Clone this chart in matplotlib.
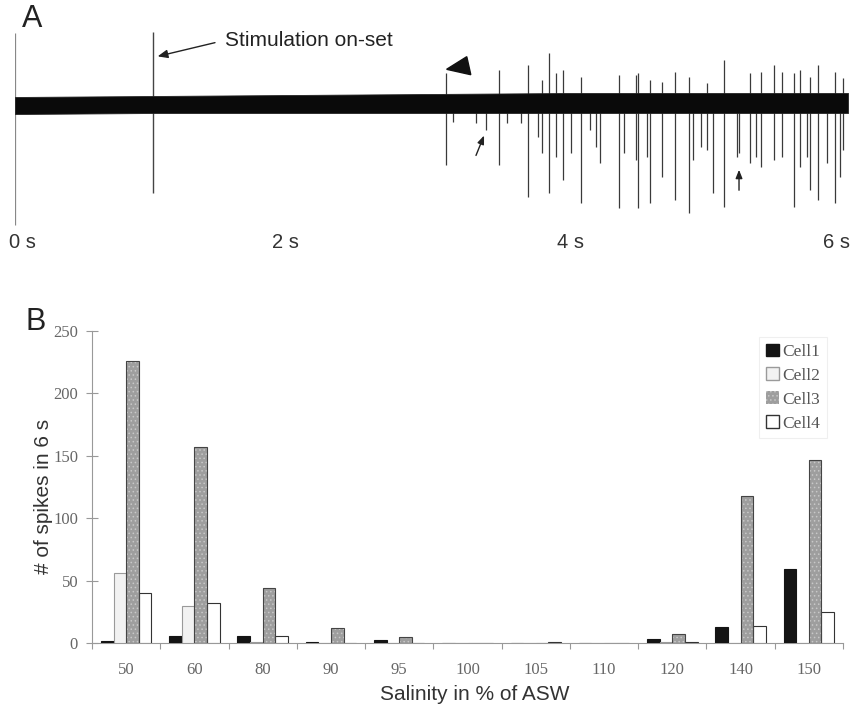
import matplotlib
matplotlib.use("Agg")
import matplotlib.pyplot as plt
from matplotlib.patches import Patch, Polygon
import numpy as np

# ---------------- Panel A data ----------------
# baseline noise envelope (upper / lower edge) at a few times
env_t = [0.0, 1.0, 2.0, 3.0, 4.0, 5.0, 6.0]
env_up = [7, 8, 9, 10, 11, 11, 11]
env_lo = [10, 9, 9, 9, 9, 9, 9]

# time-zero marker and stimulation artefact
marker_t = [0.0]
marker_up = [71]
marker_down = [121]
stim_t = [0.994]
stim_up = [72]
stim_down = [89]

spike_t = [3.102, 3.157, 3.318, 3.393, 3.486, 3.542, 3.643, 3.693, 3.765, 3.794,
           3.844, 3.897, 3.945, 4.005, 4.077, 4.142, 4.183, 4.214, 4.351, 4.385,
           4.471, 4.490, 4.550, 4.576, 4.663, 4.754, 4.855, 4.886, 4.941, 4.982,
           5.030, 5.107, 5.198, 5.217, 5.294, 5.337, 5.373, 5.467, 5.523, 5.611,
           5.654, 5.707, 5.726, 5.786, 5.847, 5.906, 5.942, 5.966]
spike_up = [31, 0, 0, 0, 34, 0, 0, 39, 0, 24,
            51, 31, 34, 0, 27, 0, 0, 0, 29, 0,
            29, 31, 0, 24, 22, 32, 27, 0, 0, 21,
            0, 44, 0, 0, 31, 0, 32, 39, 32, 31,
            34, 0, 27, 39, 0, 32, 0, 26]
spike_down = [61, 18, 19, 26, 61, 19, 19, 93, 33, 49,
              89, 53, 76, 49, 99, 26, 43, 59, 104, 49,
              56, 104, 53, 99, 73, 96, 109, 56, 43, 46,
              89, 103, 53, 49, 59, 53, 63, 56, 53, 103,
              63, 53, 86, 96, 59, 99, 73, 46]

time_ticks = [0, 2, 4, 6]
time_labels = ["0 s", "2 s", "4 s", "6 s"]

# ---------------- Panel B data ----------------
salinity = ["50", "60", "80", "90", "95", "100", "105", "110", "120", "140", "150"]
cell1 = [1.5, 6, 5.5, 0.5, 2.5, 0, 0, 0, 3, 13, 59]
cell2 = [56, 30, 1, 0, 0, 0, 0, 0, 0.5, 0, 0]
cell3 = [226, 157, 44, 12, 4.5, 0, 0, 0, 7, 118, 147]
cell4 = [40, 32, 6, 0, 0, 0, 0.5, 0, 1, 14, 25]
cell_names = ["Cell1", "Cell2", "Cell3", "Cell4"]
y_ticks = [0, 50, 100, 150, 200, 250]

W, H = 851, 709
fig = plt.figure(figsize=(W / 100, H / 100), dpi=100)

sans = ["Liberation Sans", "DejaVu Sans"]
serif = ["Liberation Serif", "DejaVu Serif"]

# ---------------- Panel A ----------------
axA = fig.add_axes([15 / W, 1 - 230 / H, 833 / W, 202 / H])
axA.set_xlim(0, 6)
axA.set_ylim(-126, 76)
axA.axis("off")

axA.fill_between(env_t, [-v for v in env_lo], env_up, color="#0a0a0a", lw=0.6,
                 edgecolor="#222222", zorder=3)
axA.vlines(marker_t, [-v for v in marker_down], marker_up, color="#888888", lw=0.9, zorder=2)
axA.vlines(stim_t, [-v for v in stim_down], stim_up, color="#444444", lw=1.0, zorder=2)
axA.vlines(spike_t, [-v for v in spike_down], spike_up, color="#3a3a3a", lw=0.9, zorder=2)

# annotations
axA.annotate("", xy=(1.008, 47), xytext=(1.46, 62),
             arrowprops=dict(arrowstyle="-|>,head_length=0.6,head_width=0.25",
                             color="#222222", lw=1.0))
axA.text(1.513, 63, "Stimulation on-set", fontsize=15, family=sans, va="center",
         ha="left", color="#222222")
axA.add_patch(Polygon([(3.109, 34.7), (3.254, 47.3), (3.283, 29.3)], closed=True,
                      color="#111111", zorder=5))
axA.annotate("", xy=(3.386, -29), xytext=(3.313, -54),
             arrowprops=dict(arrowstyle="-|>,head_length=0.5,head_width=0.2",
                             color="#222222", lw=1.0))
axA.annotate("", xy=(5.215, -63), xytext=(5.215, -89),
             arrowprops=dict(arrowstyle="-|>,head_length=0.5,head_width=0.2",
                             color="#222222", lw=1.0))

ha_list = ["left", "center", "center", "right"]
offsets = [-0.043, -0.055, 0.0, 0.014]
for tt, lab, ha, off in zip(time_ticks, time_labels, ha_list, offsets):
    axA.text(tt + off, -138, lab, fontsize=14.5, family=sans, ha=ha, va="center",
             color="#333333", clip_on=False)

fig.text(22 / W, 1 - 19 / H, "A", fontsize=22, family=sans, va="center", ha="left",
         color="#222222")

# ---------------- Panel B ----------------
axB = fig.add_axes([92 / W, 1 - 643 / H, 751 / W, 312 / H])
x = np.arange(len(salinity))
w = 0.185
styles = [
    dict(facecolor="#141414", edgecolor="#141414"),
    dict(facecolor="#f2f2f2", edgecolor="#9a9a9a"),
    dict(facecolor="#9e9e9e", edgecolor="#444444"),
    dict(facecolor="#ffffff", edgecolor="#333333"),
]
series = [cell1, cell2, cell3, cell4]
plt.rcParams["hatch.linewidth"] = 0.6
for k, (vals, st) in enumerate(zip(series, styles)):
    xpos = x + (k - 1.5) * w
    if k == 2:
        # stippled grey fill, then dark outline
        axB.bar(xpos, vals, width=w, lw=0, facecolor=st["facecolor"],
                edgecolor="#c8c8c8", hatch="....", zorder=3)
        axB.bar(xpos, vals, width=w, lw=0.8, facecolor="none",
                edgecolor=st["edgecolor"], zorder=4)
    else:
        axB.bar(xpos, vals, width=w, lw=0.8, zorder=3, **st)

axB.set_xlim(-0.5, len(salinity) - 0.5)
axB.set_ylim(0, 250)
for s in ["top", "right"]:
    axB.spines[s].set_visible(False)
axB.spines["left"].set_color("#999999")
axB.spines["bottom"].set_color("#999999")
axB.set_yticks(y_ticks)
axB.set_yticklabels([str(v) for v in y_ticks], family=serif, fontsize=12, color="#666666")
axB.tick_params(axis="y", direction="inout", length=8, width=0.8, color="#999999", pad=6)
axB.set_xticks(x)
axB.set_xticklabels(salinity, family=serif, fontsize=12, color="#666666")
axB.tick_params(axis="x", which="major", length=0, pad=14)
axB.set_xticks(np.arange(-0.5, len(salinity), 1.0), minor=True)
axB.tick_params(axis="x", which="minor", length=4, width=0.8, color="#999999", direction="out")

axB.set_ylabel("# of spikes in 6 s", family=sans, fontsize=15, color="#333333")
axB.yaxis.set_label_coords(-0.052, 0.47)
axB.set_xlabel("Salinity in % of ASW", family=sans, fontsize=15, color="#333333")
axB.xaxis.set_label_coords(0.51, -0.135)

handles = [Patch(label=cell_names[0], **styles[0]),
           Patch(label=cell_names[1], **styles[1]),
           Patch(label=cell_names[2], facecolor=styles[2]["facecolor"], edgecolor="#c8c8c8",
                 hatch="....", lw=0),
           Patch(label=cell_names[3], **styles[3])]
leg = axB.legend(handles=handles, loc="upper right", bbox_to_anchor=(0.99, 1.01),
                 prop=dict(family=serif, size=12.5), handlelength=0.7, handleheight=0.7,
                 handletextpad=0.2, labelspacing=0.45, frameon=True, fancybox=False,
                 borderpad=0.4)
leg.get_frame().set_edgecolor("#ececec")
leg.get_frame().set_linewidth(0.8)
for t in leg.get_texts():
    t.set_color("#555555")

fig.text(25 / W, 1 - 322 / H, "B", fontsize=22, family=sans, va="center", ha="left",
         color="#222222")

fig.savefig("out.png", dpi=100, facecolor="white")
